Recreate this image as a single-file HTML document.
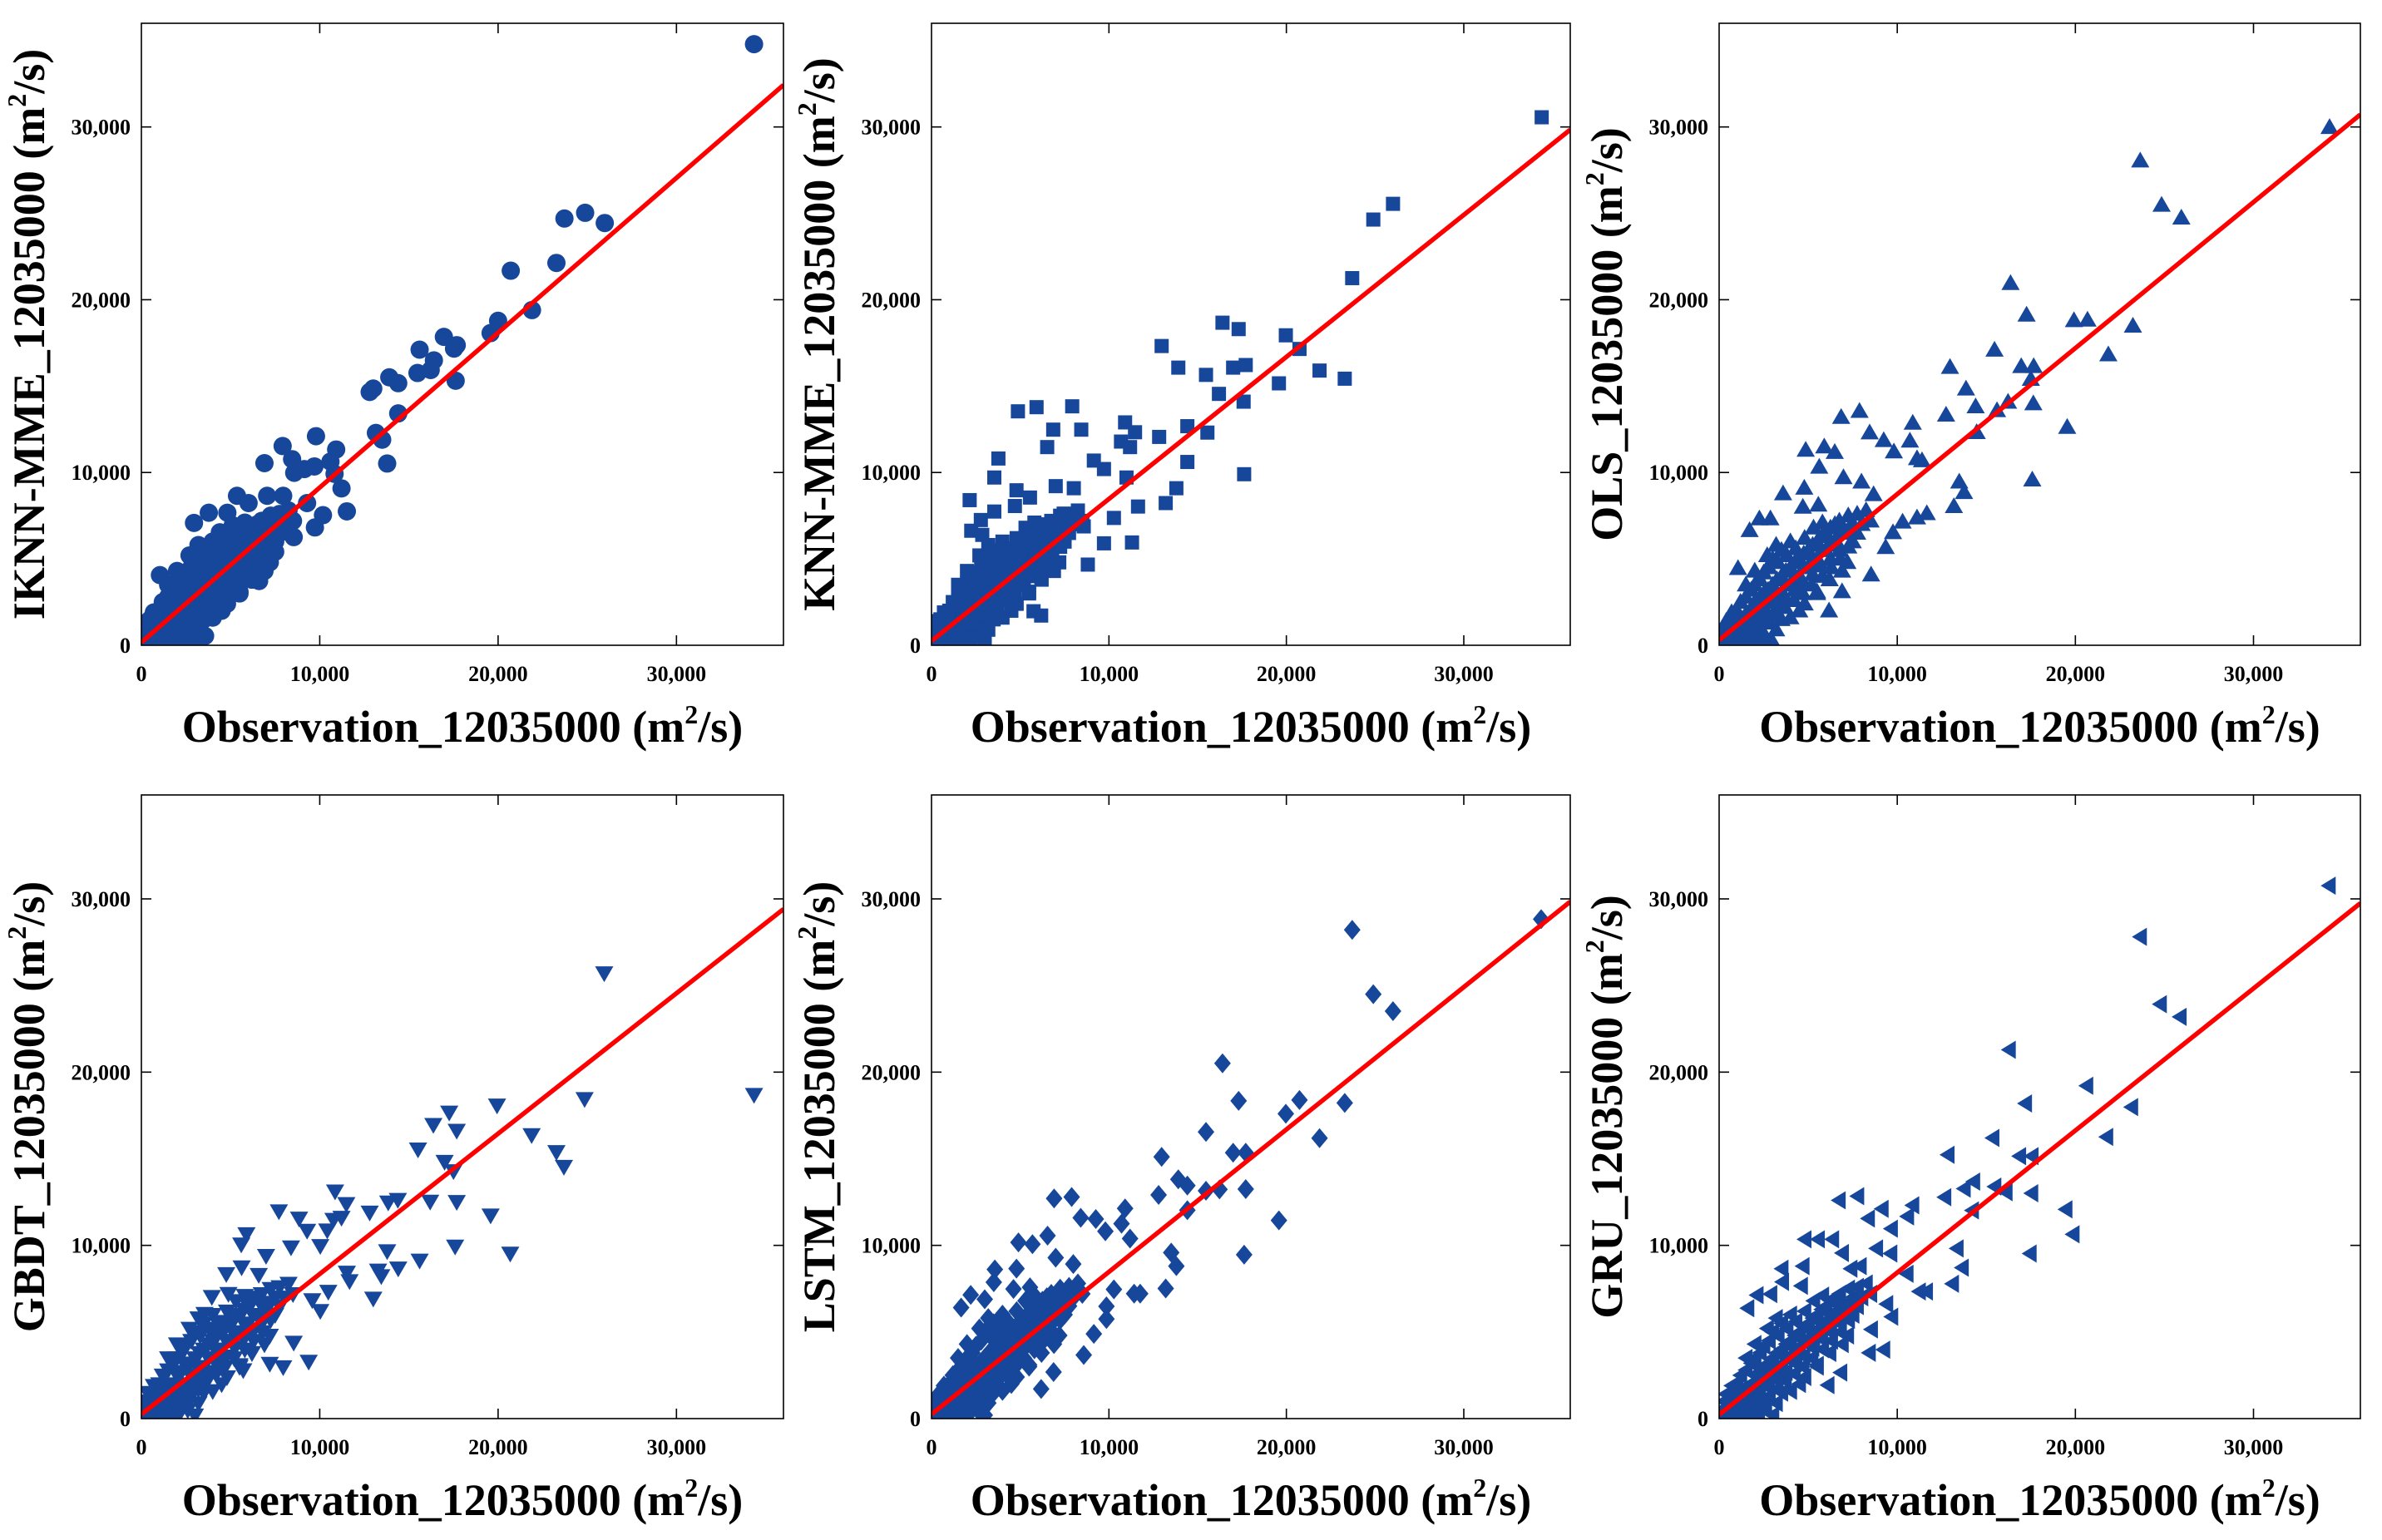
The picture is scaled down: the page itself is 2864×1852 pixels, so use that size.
<!DOCTYPE html>
<html><head><meta charset="utf-8"><title>Scatter comparison</title>
<style>
html,body{margin:0;padding:0;background:#fff;}
svg{display:block;}
text{font-family:"Liberation Serif",serif;font-weight:bold;fill:#000;}
</style></head>
<body>
<svg id="fig" width="2864" height="1852" viewBox="0 0 2864 1852" xmlns="http://www.w3.org/2000/svg"></svg>
<script>
// ---------- data ----------
const xTicks = [0, 10000, 20000, 30000];
const yTicks = [0, 10000, 20000, 30000];
const tickLabels = ["0", "10,000", "20,000", "30,000"];
const axisMax = 36000;
const panelNames = ["IKNN-MME", "KNN-MME", "OLS", "GBDT", "LSTM", "GRU"];
const markerTypes = ["circle", "square", "triangle-up", "triangle-down", "diamond", "triangle-left"];
const fitIntercept = [170, 250, 300, 250, 250, 230];
const fitSlope = [0.896, 0.822, 0.845, 0.81, 0.822, 0.82];

// shared dense core (observation, prediction)
const coreObs = [200,400,600,800,1000,1200,1500,1500,1800,2000,2000,2300,2500,2600,2800,3000,3000,3200,3500,3500,3700,4000,4000,4200,4500,4500,4700,5000,5000,5200,5500,5500,5800,6000,6000,6300,6500,6500,6800,7000,7500,7500,1000,1500,2000,2500,500,3000,3500,4000,300,100,700,1500,2500,3500,4500,1000,2000,5500,6200,7200,800,1300,2200,3300,4300,5300,6700];
const corePred = [100,600,300,1200,700,300,1800,1000,600,2500,1500,1000,3000,2000,1300,3500,2500,1700,4000,3000,2200,4500,3500,2600,5000,4000,3000,5500,4500,3500,6000,5000,4000,6500,5500,4500,7000,6000,5000,6500,7000,6000,2000,2800,3500,4200,1500,5000,5500,6000,1000,500,0,300,700,1500,2000,100,200,3000,3800,4800,400,800,1700,2700,3700,4700,5800];
const core2Obs = [250,250,500,500,750,750,1000,1000,1250,1250,1250,1750,1750,1750,2250,2250,2250,2750,2750,2750,3250,3250,3250,3750,3750,3750,4250,4250,4250,4750,4750,4750,5250,5250,5250,5750,5750,5750,6250,6250,6250,6750,6750,6750,7250,7250,7250,7750,7750,8000,8250,8500,1200,1800,2300,2800,3300,3800,4300,4800,5300,5800,1500,2000,2700,3200,700,400,1800,2600,3200,4000,4800,5500,6200,6900,3000,2200];
const core2Pred = [300,1000,700,200,800,400,1300,400,1500,900,200,2000,1300,800,2700,1900,1300,3200,2500,1800,3800,3000,2200,4300,3500,2700,4800,4000,3200,5300,4500,3600,5800,5000,4100,6300,5500,4600,6800,6000,5000,7200,6500,5500,7500,6700,5700,7600,6500,7000,7800,7200,2500,3200,3800,4500,4800,5200,5600,6200,6800,7100,3500,4300,5200,5800,1900,1400,200,500,900,1600,2400,3100,3800,4300,200,400];

const obs1 = [34350,23720,24880,25980,23270,20710,21900,19580,20000,16960,17530,17680,17620,15600,16400,15480,16220,13900,14400,12800,13000,14400,13150,13500,13780,9790,7920,6900,8450,8570,9140,9700,10920,10600,11520,11220,10830,5360,2950,3780,4820,4400,5120,6010,7050,7950,3570,1040,6000,6600,9730,10180,8540,9290,7500];
const pred1 = [34790,24700,25030,24440,22130,21680,19400,18070,18780,17850,17170,17370,15310,17110,16490,15760,15930,15510,15170,14660,14860,13420,12290,11900,10520,12100,11530,10540,10770,9980,10200,10350,11330,10630,7750,9080,9920,8650,7080,7670,7670,6540,6940,8230,8650,8650,540,4060,6260,3720,6820,7530,6260,8230,5410];

const obs2 = [34390,24900,26010,23710,16400,17310,19970,20740,12970,13910,17000,17710,15470,21870,19580,23290,16200,17590,14420,15550,12830,14420,17620,13200,13800,4870,5920,7930,6860,8440,6520,10910,11470,10680,11190,3770,3540,9150,9720,10990,7000,4790,5550,8020,2150,3540,4700,2780,2240,2860,11640,11300,9720,8810,6180,5750,10280,8580,7450];
const pred2 = [30560,24640,25550,21250,18670,18300,17940,17150,17320,16070,16070,16220,15650,15900,15160,15430,14550,14100,12680,12310,12060,10610,9900,8230,9090,13540,13780,13830,12480,12480,11470,12900,12330,11790,11470,10810,9710,10690,10200,9710,9210,8970,8550,9090,8400,7740,8060,7250,6630,6390,8030,5950,5900,4670,1720,1970,7370,6880,7620];

const obs3 = [34270,23640,24840,25950,16360,17260,19920,20680,23230,21850,15460,12960,16960,17660,17500,13860,14400,12740,15600,16220,17640,19540,14460,10870,10710,17580,13480,13750,13180,6850,7880,8450,9240,4860,5900,6490,5620,6980,9810,11110,11390,3590,4780,5570,4700,7990,8670,11660,11110,2260,2880,1710,1060,6900,6170,8530,9350,9760,10300];
const pred3 = [29980,28040,25480,24740,20950,19120,18800,18830,18480,16820,17090,16090,16140,16140,15400,14840,13810,13330,13590,14080,13990,12620,12320,12860,11830,9580,9460,8850,8040,13200,13550,12300,11860,11300,11490,11170,10320,9710,11200,10810,10690,8780,9100,8120,8000,9460,8730,7630,7380,7330,7330,6650,4450,3110,2000,4080,5670,6530,7140];

const obs4 = [34350,25950,24850,19940,17260,16370,17680,21880,23270,23690,15510,17000,17500,16190,17680,19580,20680,17590,10860,11490,12800,13840,14380,13780,15600,13000,14400,13450,13270,7710,8840,9290,10770,10420,11220,5890,5600,8390,10030,6990,4760,5620,6580,3540,3950,4880,9380,7950,7200,5710,8540,11520,11670,10480,10030,9580];
const pred4 = [18700,25720,18460,18090,17680,16970,16630,16380,15400,14550,15550,14840,14300,12540,12520,11740,9540,9950,13130,12400,11910,12490,12640,9680,9140,6940,8680,8240,8560,11980,11560,10860,11490,10880,11610,10660,10070,9900,9980,9410,8360,8750,8310,6060,7040,7210,3300,2980,3180,2810,4400,8440,7950,7340,6230,6850];

const obs5 = [34360,23710,24900,26010,16400,17310,20740,19970,23290,21870,15470,12970,17000,17710,13910,14420,12800,15470,16230,17710,14420,19580,13510,13800,13200,17620,6910,7900,10910,10710,8410,9260,9800,4900,5690,6540,11190,7000,7990,4790,3570,3510,4620,5550,2210,1670,3000,8580,6180,6880,9150,9860,9860,11420,11760,10280];
const pred5 = [28830,28210,24500,23520,20510,18340,18390,17600,18220,16190,16550,15110,15350,15350,13810,13450,12910,13150,13230,13250,12030,11440,9580,8800,7510,9460,12710,12790,12130,11250,11590,11520,10810,10170,10070,10560,10390,9290,8920,8660,8610,7870,7480,7580,7140,6410,6890,3670,1710,2690,4890,6480,5750,7210,7210,7460];

const obs6 = [34240,23640,24760,25870,16280,20630,17190,23150,21750,15360,12840,16860,17560,14280,13750,15470,16100,17540,12660,14210,19460,19860,17450,13350,13640,13090,11230,11630,6730,7770,9140,10860,8370,10570,9660,4810,5560,6360,6910,8830,9630,4700,3520,7390,7910,3550,4610,2120,1600,2890,8420,9230,6100,6820,8540,9400,9680,10540];
const pred6 = [30760,27810,23920,23190,21290,19210,18190,17980,16260,16200,15230,15150,15150,13680,13270,13390,13070,13010,12780,12020,12080,10640,9530,9820,8710,7780,7340,7340,12600,12840,12110,12310,11550,11670,10960,10350,10350,10350,9560,9820,9530,8800,8650,8650,8800,7890,7660,7130,6370,7190,3800,3980,1930,2660,5150,6610,5880,8360];

const allObs = [obs1, obs2, obs3, obs4, obs5, obs6];
const allPred = [pred1, pred2, pred3, pred4, pred5, pred6];

// ---------- layout ----------
const colLeft = [170, 1120, 2067];
const colRight = [942, 1888, 2838];
const rowTop = [28, 956];
const rowBottom = [776, 1706];
const NS = "http://www.w3.org/2000/svg";
const svg = document.getElementById("fig");
function mk(tag, attrs, parent) {
  const e = document.createElementNS(NS, tag);
  for (const k in attrs) e.setAttribute(k, attrs[k]);
  (parent || svg).appendChild(e);
  return e;
}
const BLUE = "#17479b";

function marker(type, cx, cy, g) {
  let e;
  if (type === "circle") {
    e = mk("circle", {cx: cx, cy: cy, r: 11, fill: BLUE}, g);
  } else if (type === "square") {
    e = mk("rect", {x: cx - 8.5, y: cy - 8.5, width: 17, height: 17, fill: BLUE}, g);
  } else {
    let p;
    if (type === "triangle-up") p = [[cx, cy - 11], [cx + 11, cy + 8], [cx - 11, cy + 8]];
    else if (type === "triangle-down") p = [[cx, cy + 11], [cx + 11, cy - 8], [cx - 11, cy - 8]];
    else if (type === "diamond") p = [[cx, cy - 12], [cx + 10, cy], [cx, cy + 12], [cx - 10, cy]];
    else p = [[cx - 10, cy], [cx + 8, cy - 11], [cx + 8, cy + 11]];
    e = mk("polygon", {points: p.map(q => q.join(",")).join(" "), fill: BLUE}, g);
  }
  return e;
}

for (let i = 0; i < 6; i++) {
  const L = colLeft[i % 3], R = colRight[i % 3];
  const T = rowTop[Math.floor(i / 3)], B = rowBottom[Math.floor(i / 3)];
  const sx = v => L + (v / axisMax) * (R - L);
  const sy = v => B - (v / axisMax) * (B - T);
  const g = mk("g", {});
  
  

  const cp = mk("clipPath", {id: "clip" + i}, g);
  mk("rect", {x: L, y: T, width: R - L, height: B - T}, cp);

  const pts = mk("g", {"clip-path": "url(#clip" + i + ")"}, g);
  
  
  for (let k = 0; k < coreObs.length; k++) {
    const m = marker(markerTypes[i], sx(coreObs[k]), sy(corePred[k]), pts);
    
    
  }
  for (let k = 0; k < core2Obs.length; k++) {
    const m = marker(markerTypes[i], sx(core2Obs[k]), sy(core2Pred[k]), pts);
    
    
  }
  const ob = allObs[i], pr = allPred[i];
  for (let k = 0; k < ob.length; k++) {
    const m = marker(markerTypes[i], sx(ob[k]), sy(pr[k]), pts);
    
    
  }
  const fl = mk("line", {x1: sx(0), y1: sy(fitIntercept[i]), x2: sx(axisMax), y2: sy(fitIntercept[i] + fitSlope[i] * axisMax), stroke: "#ff0000", "stroke-width": 5.5, "clip-path": "url(#clip" + i + ")"}, g);
  
  

  const fr = mk("rect", {x: L, y: T, width: R - L, height: B - T, fill: "none", stroke: "#000", "stroke-width": 1.6}, g);
  
  

  for (let k = 0; k < xTicks.length; k++) {
    const x = sx(xTicks[k]);
    if (k > 0) {
      mk("line", {x1: x, y1: B, x2: x, y2: B - 12, stroke: "#000", "stroke-width": 1.6}, g);
      mk("line", {x1: x, y1: T, x2: x, y2: T + 12, stroke: "#000", "stroke-width": 1.6}, g);
    }
    const t = mk("text", {x: x, y: B + 43, "text-anchor": "middle", "font-size": 26}, g);
    t.textContent = tickLabels[k];
    
    
  }
  for (let k = 0; k < yTicks.length; k++) {
    const y = sy(yTicks[k]);
    if (k > 0) {
      mk("line", {x1: L, y1: y, x2: L + 12, y2: y, stroke: "#000", "stroke-width": 1.6}, g);
      mk("line", {x1: R, y1: y, x2: R - 12, y2: y, stroke: "#000", "stroke-width": 1.6}, g);
    }
    const t = mk("text", {x: L - 13, y: y + 9, "text-anchor": "end", "font-size": 26}, g);
    t.textContent = tickLabels[k];
    
    
  }
  const xt = mk("text", {x: (L + R) / 2, y: B + 116, "text-anchor": "middle", "font-size": 54}, g);
  
  
  xt.appendChild(document.createTextNode("Observation_12035000 (m"));
  let sp = mk("tspan", {"font-size": 32, dy: -22}, xt); sp.textContent = "2";
  sp = mk("tspan", {dy: 22}, xt); sp.textContent = "/s)";
  const cx = L - 117, cy = (T + B) / 2;
  const yt = mk("text", {x: cx, y: cy, "text-anchor": "middle", "font-size": 54, transform: "rotate(-90 " + cx + " " + cy + ")"}, g);
  
  
  yt.appendChild(document.createTextNode(panelNames[i] + "_12035000 (m"));
  sp = mk("tspan", {"font-size": 32, dy: -22}, yt); sp.textContent = "2";
  sp = mk("tspan", {dy: 22}, yt); sp.textContent = "/s)";
}
</script>
</body></html>
